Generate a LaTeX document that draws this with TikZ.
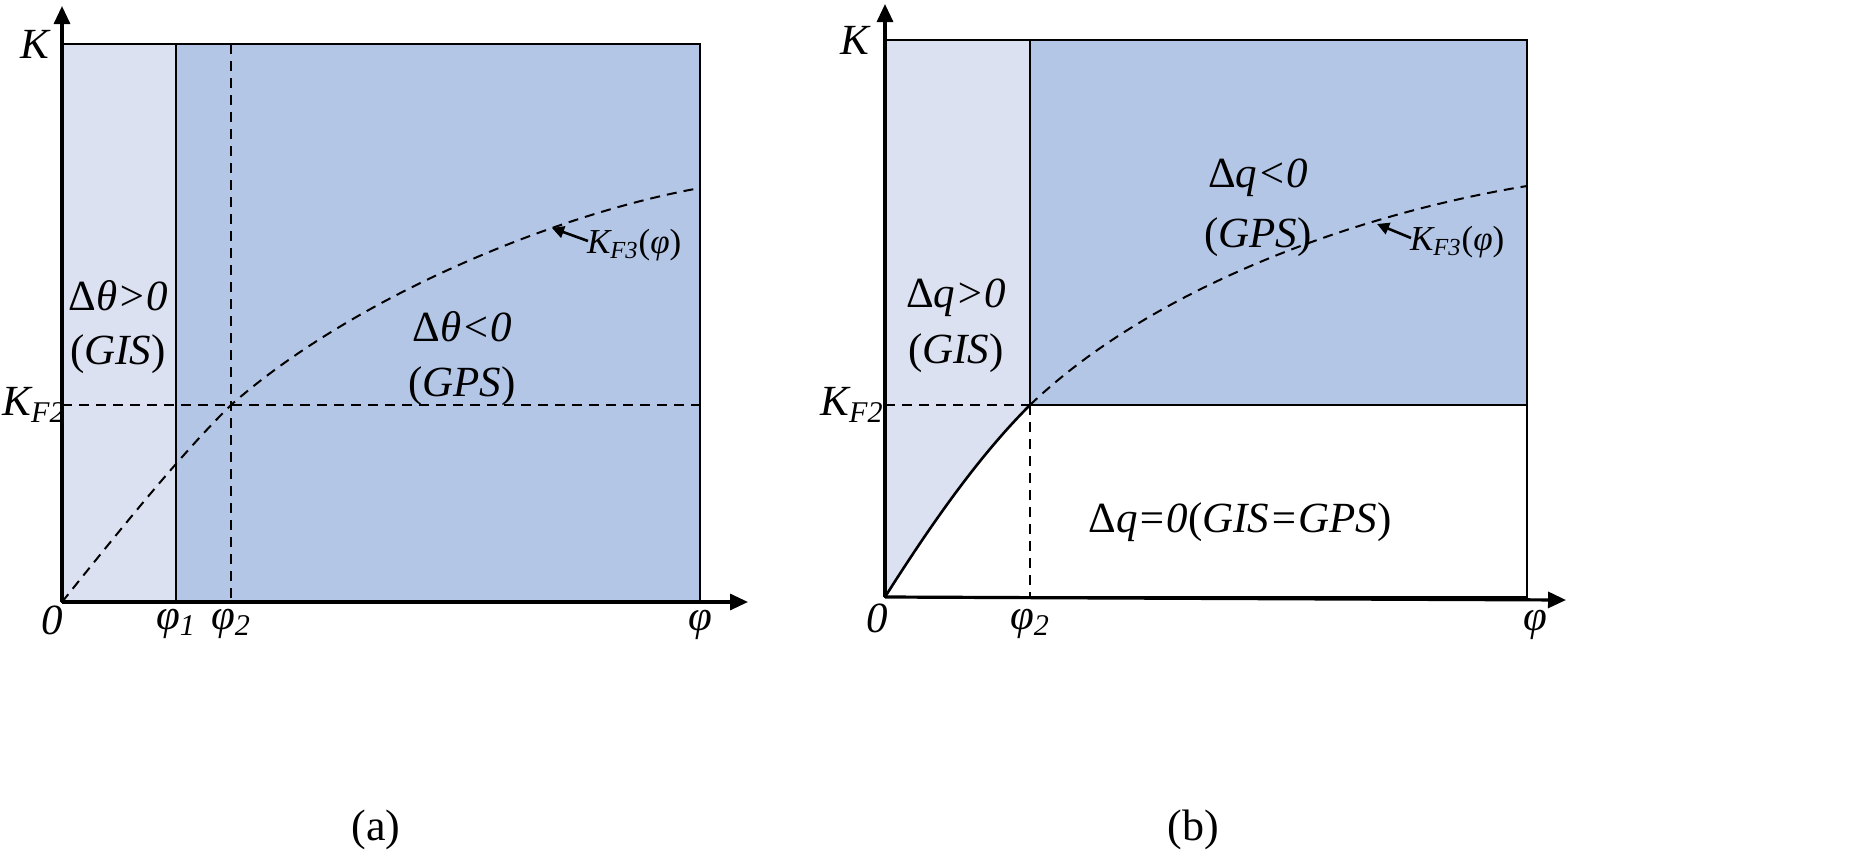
\documentclass[tikz,border=0pt]{standalone}
\usepackage{fontspec}
\setmainfont{Liberation Serif}
\usetikzlibrary{arrows.meta}
\definecolor{lightb}{HTML}{DCE1F2}
\definecolor{darkb}{HTML}{B4C6E6}
\tikzset{
  ax/.style={line width=1.6pt,-{Triangle[length=9pt,width=8pt]}},
  bx/.style={line width=1.3pt},
  dsh/.style={line width=1pt,dash pattern=on 5pt off 3.5pt},
  lb/.style={font=\fontsize{21.5}{24}\selectfont\itshape},
  sl/.style={font=\fontsize{17.5}{20}\selectfont\itshape},
  cap2/.style={font=\fontsize{22}{24}\selectfont}
}
\begin{document}
\begin{tikzpicture}[x=0.5pt,y=-0.5pt]
\useasboundingbox (0,0) rectangle (1863,862);
% ---------- panel a
\fill[darkb] (62,44) rectangle (700,602);
\fill[lightb] (62,44) rectangle (176,602);
\draw[bx] (62,44) rectangle (700,602);
\draw[bx] (176,44) -- (176,602);
\draw[dsh] (231,44) -- (231,602);
\draw[dsh] (62,405) -- (700,405);
\draw[dsh] (62,602) .. controls (120,530) and (180,455) .. (231,405) .. controls (350,300) and (550,215) .. (700,188);
\coordinate (oa) at (62,602);
\coordinate (xa) at (748,602);
\coordinate (ya) at (62,6);
\draw[ax] (oa) -- (xa);
\draw[ax] (oa) -- (ya);
\node[lb] (ka) at (35,44) {K};
\node[lb] (kf2a) at (34,405) {K\textsubscript{F2}};
\node[lb] (za) at (52,620) {0};
\node[lb] (p1a) at (176,624) {φ\textsubscript{1}};
\node[lb] (p2a) at (231,624) {φ\textsubscript{2}};
\node[lb] (pa) at (700,625) {φ};
\node[lb] (t1a) at (118,296) {\upshape Δ\itshape θ>0};
\node[lb] (t2a) at (118,354) {\upshape(\itshape GIS\upshape)};
\node[lb] (t3a) at (462,327) {\upshape Δ\itshape θ<0};
\node[lb] (t4a) at (462,386) {\upshape(\itshape GPS\upshape)};
\node[sl,anchor=west] (kf3a) at (580,245) {K\textsubscript{F3}\upshape(\itshape φ\upshape)};
\coordinate (ta) at (552,228);
\draw[line width=1.3pt,-{Triangle[length=6pt,width=6pt]}] (kf3a.west) ++(8,-4) -- (ta);
\node[cap2] (capa) at (376,830) {(a)};
% ---------- panel b
\fill[darkb] (1030,40) rectangle (1527,405);
\fill[lightb] (885,40) -- (1030,40) -- (1030,405) .. controls (985,450) and (940,510) .. (885,597) -- cycle;
\draw[bx] (885,40) rectangle (1527,597);
\draw[bx] (1030,40) -- (1030,405) -- (1527,405);
\draw[bx] (885,597) .. controls (940,510) and (985,450) .. (1030,405);
\draw[dsh] (885,405) -- (1030,405);
\draw[dsh] (1030,405) -- (1030,597);
\draw[dsh] (1030,405) .. controls (1150,290) and (1350,215) .. (1527,186);
\coordinate (ob) at (885,597);
\coordinate (xb) at (1566,600);
\coordinate (yb) at (885,4);
\draw[ax] (ob) -- (xb);
\draw[ax] (ob) -- (yb);
\node[lb] (kb) at (855,40) {K};
\node[lb] (kf2b) at (852,405) {K\textsubscript{F2}};
\node[lb] (zb) at (877,618) {0};
\node[lb] (p2b) at (1030,624) {φ\textsubscript{2}};
\node[lb] (pb) at (1535,625) {φ};
\node[lb] (t1b) at (1258,178) {\upshape Δ\itshape q<0};
\node[lb] (t2b) at (1258,237) {\upshape(\itshape GPS\upshape)};
\node[lb] (t3b) at (956,298) {\upshape Δ\itshape q>0};
\node[lb] (t4b) at (956,353) {\upshape(\itshape GIS\upshape)};
\node[lb] (t5b) at (1240,522) {\upshape Δ\itshape q=0\upshape(\itshape GIS=GPS\upshape)};
\node[sl,anchor=west] (kf3b) at (1403,242) {K\textsubscript{F3}\upshape(\itshape φ\upshape)};
\coordinate (tb) at (1377,224);
\draw[line width=1.3pt,-{Triangle[length=6pt,width=6pt]}] (kf3b.west) ++(8,-4) -- (tb);
\node[cap2] (capb) at (1193,830) {(b)};
\end{tikzpicture}
\end{document}
